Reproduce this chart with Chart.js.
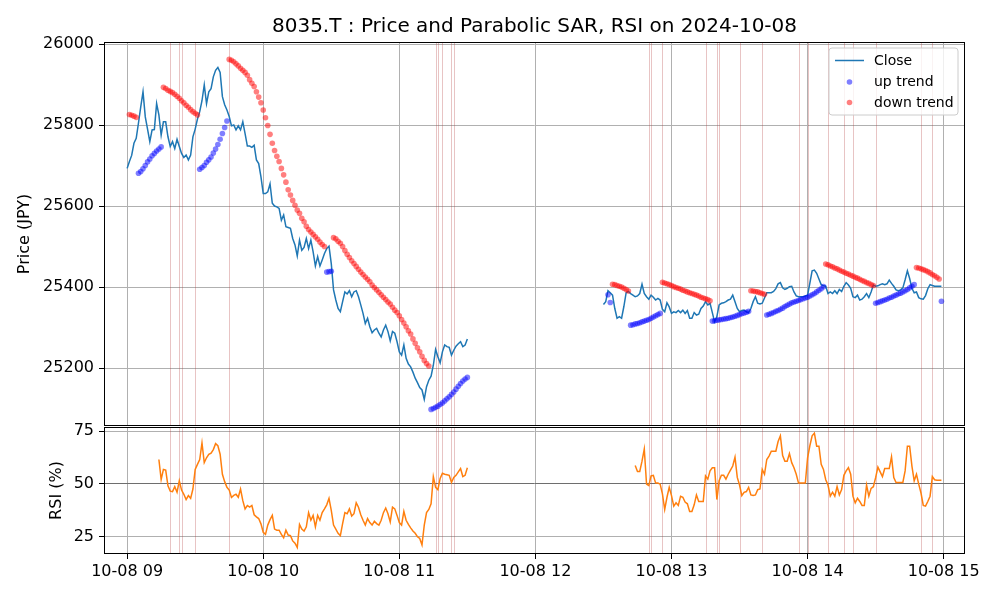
<!DOCTYPE html>
<html>
<head>
<meta charset="utf-8">
<script src="https://cdn.jsdelivr.net/npm/chart.js@4.4.0/dist/chart.umd.min.js"></script>
<style>
html,body{margin:0;padding:0;background:#fff;}
#wrap{position:relative;width:1000px;height:600px;overflow:hidden;}
#c1{position:absolute;left:0;top:0;}
#c2{position:absolute;left:0;top:420px;}
</style>
</head>
<body>
<div id="wrap">
<canvas id="c1" width="1000" height="432"></canvas>
<canvas id="c2" width="1000" height="180"></canvas>
</div>
<script>
// ---- data (x = minutes since 09:00 on 2024-10-08) ----
const titleText = '8035.T : Price and Parabolic SAR, RSI on 2024-10-08';
const xTickMinutes = [0, 60, 120, 180, 240, 300, 360];
const xTickLabels = ['10-08 09', '10-08 10', '10-08 11', '10-08 12', '10-08 13', '10-08 14', '10-08 15'];
const priceTicks = [25200, 25400, 25600, 25800, 26000];
const rsiTicks = [25, 50, 75];

const closeAMStart = 0;
const closeAM = [
  25693,25710,25725,25755,25767,25805,25845,25882,25820,25790,
  25759,25788,25789,25853,25825,25775,25808,25808,25771,25747,
  25759,25742,25765,25747,25730,25720,25726,25714,25726,25771,
  25790,25815,25833,25860,25899,25853,25882,25890,25919,25935,
  25942,25930,25870,25850,25837,25821,25798,25800,25788,25798,
  25788,25808,25779,25748,25748,25745,25750,25714,25705,25672,
  25631,25631,25635,25655,25607,25600,25598,25594,25565,25578,
  25549,25547,25545,25520,25504,25477,25516,25491,25498,25520,
  25495,25516,25487,25452,25475,25452,25467,25483,25495,25501,
  25458,25393,25368,25347,25339,25364,25388,25383,25391,25376,
  25388,25391,25376,25356,25335,25310,25323,25302,25287,25294,
  25298,25286,25277,25294,25306,25290,25267,25290,25286,25265,
  25240,25232,25257,25224,25210,25203,25190,25175,25164,25152,
  25146,25123,25154,25170,25180,25207,25246,25228,25213,25240,
  25257,25253,25251,25232,25244,25254,25260,25265,25253,25257,
  25272
];
const closePMStart = 210;
const closePM = [
  25357,25364,25391,25386,25380,25347,25323,25327,25323,25352,
  25386,25389,25384,25380,25376,25378,25384,25407,25384,25376,
  25370,25380,25375,25368,25372,25368,25345,25339,25361,25351,
  25335,25339,25337,25342,25337,25343,25335,25342,25323,25323,
  25337,25331,25333,25347,25353,25364,25356,25360,25337,25314,
  25327,25356,25360,25361,25364,25368,25370,25380,25364,25347,
  25339,25342,25343,25339,25337,25347,25364,25376,25360,25358,
  25360,25373,25386,25386,25386,25389,25396,25408,25411,25398,
  25394,25397,25401,25402,25388,25378,25376,25376,25376,25378,
  25380,25410,25440,25442,25434,25420,25406,25403,25402,25384,
  25388,25384,25391,25384,25394,25389,25402,25411,25405,25397,
  25376,25374,25380,25368,25370,25376,25384,25374,25388,25405,
  25402,25403,25406,25408,25406,25408,25417,25409,25402,25393,
  25391,25393,25398,25418,25440,25421,25397,25386,25388,25374,
  25371,25370,25379,25396,25406,25404,25402,25402,25402,25402
];

const sarAMStart = 1;
const sarAM = [
  25826,25824,25822,25819,25681,25685,25692,25700,25709,25716,
  25724,25730,25736,25741,25746,25893,25890,25886,25883,25880,
  25876,25871,25866,25860,25855,25849,25844,25838,25833,25829,
  25825,25691,25695,25700,25708,25714,25721,25731,25741,25752,
  25765,25779,25794,25810,25962,25960,25956,25951,25946,25940,
  25935,25930,25923,25912,25903,25895,25882,25869,25855,25837,
  25818,25799,25777,25755,25737,25723,25710,25693,25677,25659,
  25640,25627,25614,25602,25590,25582,25570,25561,25550,25542,
  25536,25530,25524,25518,25511,25505,25500,25437,25438,25439,
  25522,25519,25513,25508,25500,25490,25481,25473,25465,25458,
  25451,25444,25437,25431,25425,25419,25413,25405,25399,25393,
  25387,25381,25375,25369,25363,25358,25350,25343,25337,25329,
  25320,25311,25302,25292,25284,25272,25261,25250,25240,25229,
  25219,25211,25205,25098,25100,25103,25106,25110,25114,25119,
  25124,25129,25135,25141,25148,25155,25162,25168,25173,25177
];
const downTrendAM = [[1, 4], [16, 31], [45, 87], [91, 133]];

const sarPMStart = 212;
const sarPM = [
  25381,25362,25407,25406,25404,25402,25400,25397,25394,25390,
  25306,25307,25309,25310,25312,25314,25316,25318,25320,25323,
  25326,25329,25332,25335,25412,25410,25408,25406,25404,25401,
  25399,25397,25395,25392,25390,25388,25386,25384,25382,25380,
  25378,25375,25373,25371,25369,25366,25316,25317,25318,25319,
  25320,25321,25322,25323,25325,25326,25328,25330,25332,25334,
  25336,25338,25340,25391,25390,25389,25388,25386,25384,25382,
  25331,25333,25335,25337,25340,25342,25345,25348,25352,25355,
  25358,25361,25363,25365,25367,25369,25371,25373,25375,25378,
  25381,25384,25388,25392,25396,25401,25457,25455,25452,25450,
  25447,25445,25442,25439,25437,25434,25432,25429,25427,25424,
  25422,25419,25416,25414,25411,25409,25406,25404,25360,25362,
  25364,25366,25368,25370,25373,25375,25378,25380,25383,25385,
  25388,25391,25394,25398,25402,25406,25448,25447,25445,25443,
  25441,25438,25435,25431,25428,25424,25420,25365
];
const downTrendPM = [[214, 221], [236, 257], [275, 281], [308, 329], [348, 358]];

const rsiAMStart = 14;
const rsiAM = [
  61.5,52,56.8,56.5,49,46.5,46.3,48.6,46,51.4,
  47,45,42.5,44.4,43.1,47.5,56.8,59.2,61.5,69.3,
  60,62.3,63.9,64.5,66.2,69,68,64,54.5,51,
  48.3,47,43.5,44.5,45,43.6,47.5,42,38.1,39.7,
  38.9,39.7,35.3,34.3,33.5,31,27,26,30.4,33,
  35,28.5,28,28,26,24.4,28,25.7,25.4,22.9,
  21.8,19.8,30.7,28.5,27.6,29.6,36.3,32.7,35,29.6,
  35,32.7,36.3,38.1,40,43.1,37.4,30.4,28.5,26.5,
  25.4,31.1,36.3,35.8,38.1,34.7,35.8,41,38.9,35.3,
  32.7,30.4,33.5,31.6,30.4,32.2,31.1,30.4,32.7,36.3,
  38.5,35.8,31.9,38.9,38.1,35,31.6,30.4,36.9,32.7,
  30.7,29.1,27.6,26.5,24.9,24.1,21,30.4,36.3,37.8,
  40.5,53.4,48.3,47.2,52.5,55,54.5,54.3,54,50.6,
  53,54,55.6,57.2,53.4,54,57.6
];
const rsiPMStart = 224;
const rsiPM = [
  58.7,55.8,55.8,60.7,66.5,49.8,49.1,53.7,54,50.3,
  50.3,49.8,45.2,37.8,43.6,48.3,44.4,39.4,41,39.7,
  44.1,43.6,41.3,40.5,36.9,36.9,40,44.7,41.6,41.6,
  41.6,53.7,52.2,56.1,57.6,57.6,42.5,51.4,54,54,
  52.2,54.5,56.5,58.4,62.6,53,49.4,44.4,45.9,46.3,
  48.3,44.7,44.4,44.7,47.2,47.5,56.8,54.5,61.5,63.1,
  65.4,65.4,65.4,70,72.7,63.4,60.7,60.7,64.3,60,
  57.6,54.5,50.3,50.3,50.3,50.3,62.3,68,72.7,74,
  67.8,67.8,59.2,56.8,51.9,49.4,44.1,46,44.1,48.7,
  44.7,47.2,54,56.1,57.6,54.5,44.1,41,43.1,41.6,
  39.7,39.7,49.4,44.1,47.8,48.6,52.9,57.9,55.6,53.4,
  57.2,57.2,57.2,62.8,52.9,50.6,50.6,50.6,50.6,56.1,
  67.8,67.8,58.4,51.4,54.5,49.8,45.6,39.7,39.4,41.6,
  44.1,53.4,51.9,51.7,51.7,51.7
];

const signalMinutes = [19,23,24,30,45,136,137,139,143,144,230,231,236,255,260,261,270,280,296,300,309,316,320,330,350,355];

// ---- helpers ----
const X_MIN = -10.2, X_MAX = 369.4;
function pts(start, arr) { return arr.map((v, i) => ({x: start + i, y: v})); }
function withGap(a, b, gapX) { return [...a, {x: gapX, y: null}, ...b]; }
function inRanges(m, ranges) { return ranges.some(r => m >= r[0] && m <= r[1]); }
function sarSplit(start, arr, ranges, wantDown) {
  const out = [];
  arr.forEach((v, i) => { const m = start + i; if (inRanges(m, ranges) === wantDown) out.push({x: m, y: v}); });
  return out;
}

const closeData = withGap(pts(closeAMStart, closeAM), pts(closePMStart, closePM), 180);
const upData = [...sarSplit(sarAMStart, sarAM, downTrendAM, false), ...sarSplit(sarPMStart, sarPM, downTrendPM, false)];
const downData = [...sarSplit(sarAMStart, sarAM, downTrendAM, true), ...sarSplit(sarPMStart, sarPM, downTrendPM, true)];
const rsiData = withGap(pts(rsiAMStart, rsiAM), pts(rsiPMStart, rsiPM), 180);

Chart.defaults.font.family = 'DejaVu Sans';
Chart.defaults.color = '#000';

const GRID = '#b0b0b0';
const BLUE = 'rgba(0,0,255,0.5)';
const RED = 'rgba(255,0,0,0.5)';

const framePlugin = {
  id: 'frame',
  beforeDatasetsDraw(chart) {
    const {ctx, chartArea: a} = chart;
    const xs = chart.scales.x;
    ctx.save();
    ctx.strokeStyle = 'rgba(180,60,60,0.3)';
    ctx.lineWidth = 1;
    signalMinutes.forEach(m => {
      const px = Math.round(xs.getPixelForValue(m)) + 0.5;
      ctx.beginPath(); ctx.moveTo(px, a.top); ctx.lineTo(px, a.bottom); ctx.stroke();
    });
    ctx.restore();
  },
  afterDraw(chart) {
    const {ctx, chartArea: a} = chart;
    ctx.save();
    ctx.strokeStyle = '#000';
    ctx.lineWidth = 1;
    const l = Math.round(a.left) + 0.5, t = Math.round(a.top) + 0.5;
    const r = Math.round(a.right) - 0.5, b = Math.round(a.bottom) - 0.5;
    ctx.strokeRect(l, t, r - l, b - t);
    ctx.restore();
  }
};

const legendPlugin = {
  id: 'boxLegend',
  afterDraw(chart) {
    const ctx = chart.ctx;
    const bx = 829, by = 48, bw = 129, bh = 67, rad = 3;
    ctx.save();
    ctx.beginPath();
    ctx.moveTo(bx + rad, by);
    ctx.arcTo(bx + bw, by, bx + bw, by + bh, rad);
    ctx.arcTo(bx + bw, by + bh, bx, by + bh, rad);
    ctx.arcTo(bx, by + bh, bx, by, rad);
    ctx.arcTo(bx, by, bx + bw, by, rad);
    ctx.closePath();
    ctx.fillStyle = 'rgba(255,255,255,0.8)';
    ctx.fill();
    ctx.strokeStyle = '#cccccc';
    ctx.lineWidth = 1;
    ctx.stroke();
    ctx.font = '14px "DejaVu Sans"';
    ctx.fillStyle = '#000';
    ctx.textBaseline = 'middle';
    ctx.textAlign = 'left';
    ctx.strokeStyle = '#1f77b4'; ctx.lineWidth = 1.5;
    ctx.beginPath(); ctx.moveTo(835, 60.5); ctx.lineTo(864, 60.5); ctx.stroke();
    ctx.fillText('Close', 874, 61);
    ctx.fillStyle = BLUE; ctx.beginPath(); ctx.arc(849.5, 82, 2.8, 0, Math.PI * 2); ctx.fill();
    ctx.fillStyle = '#000'; ctx.fillText('up trend', 874, 82);
    ctx.fillStyle = RED; ctx.beginPath(); ctx.arc(849.5, 102.5, 2.8, 0, Math.PI * 2); ctx.fill();
    ctx.fillStyle = '#000'; ctx.fillText('down trend', 874, 103);
    ctx.restore();
  }
};

function noPad(s) { s.paddingTop = 0; s.paddingBottom = 0; }

const xBase = {
  type: 'linear', min: X_MIN, max: X_MAX,
  afterBuildTicks(s) { s.ticks = xTickMinutes.map(v => ({value: v})); },
  border: {display: false}
};

new Chart(document.getElementById('c1'), {
  type: 'line',
  data: {
    datasets: [
      {label: 'down trend', type: 'scatter', data: downData, backgroundColor: RED, borderWidth: 0, pointRadius: 2.8, order: 1},
      {label: 'up trend', type: 'scatter', data: upData, backgroundColor: BLUE, borderWidth: 0, pointRadius: 2.8, order: 2},
      {label: 'Close', data: closeData, borderColor: '#1f77b4', borderWidth: 1.5, pointRadius: 0, spanGaps: false, tension: 0, order: 3}
    ]
  },
  options: {
    responsive: false, animation: false, events: [],
    layout: {padding: {left: 10, right: 35, top: 0, bottom: 0}},
    plugins: {
      legend: {display: false}, tooltip: {enabled: false},
      title: {display: true, text: titleText, fullSize: false, font: {size: 20, weight: 'normal'}, color: '#000', padding: {top: 15, bottom: 3}}
    },
    scales: {
      x: Object.assign({}, xBase, {
        afterFit(s) { s.height = 6; s.paddingLeft = 0; s.paddingRight = 0; },
        ticks: {display: false},
        grid: {color: GRID, drawTicks: false, lineWidth: 1}
      }),
      y: {
        min: 25057, max: 26005,
        afterFit(s) { s.width = 94; noPad(s); },
        afterBuildTicks(s) { s.ticks = priceTicks.map(v => ({value: v})); },
        ticks: {font: {size: 16}, color: '#000', padding: 5, callback: v => String(v)},
        grid: {color: GRID, tickColor: '#000', tickLength: 5, lineWidth: 1},
        border: {display: false},
        title: {display: true, text: 'Price (JPY)', font: {size: 16}, color: '#000', padding: {top: 5, bottom: 0}}
      }
    }
  },
  plugins: [framePlugin, legendPlugin]
});

new Chart(document.getElementById('c2'), {
  type: 'line',
  data: {
    datasets: [
      {label: 'RSI', data: rsiData, borderColor: '#ff7f0e', borderWidth: 1.5, pointRadius: 0, spanGaps: false, tension: 0}
    ]
  },
  options: {
    responsive: false, animation: false, events: [],
    layout: {padding: {left: 43, right: 35, top: 7, bottom: 0}},
    plugins: {legend: {display: false}, tooltip: {enabled: false}},
    scales: {
      x: Object.assign({}, xBase, {
        afterFit(s) { s.height = 46; },
        grid: {color: GRID, tickColor: '#000', tickLength: 5, lineWidth: 1},
        ticks: {display: true, font: {size: 16}, color: '#000', padding: 3, maxRotation: 0, autoSkip: false,
                callback: (v, i) => xTickLabels[i]}
      }),
      y: {
        min: 16.7, max: 76.9,
        afterFit(s) { s.width = 61; noPad(s); },
        afterBuildTicks(s) { s.ticks = rsiTicks.map(v => ({value: v})); },
        ticks: {font: {size: 16}, color: '#000', padding: 5, callback: v => String(v)},
        grid: {color: c => (c.tick && c.tick.value === 50 ? '#6e6e6e' : GRID), tickColor: '#000', tickLength: 5, lineWidth: 1},
        border: {display: false},
        title: {display: true, text: 'RSI (%)', font: {size: 16}, color: '#000', padding: {top: 4, bottom: 0}}
      }
    }
  },
  plugins: [framePlugin]
});
</script>
</body>
</html>
